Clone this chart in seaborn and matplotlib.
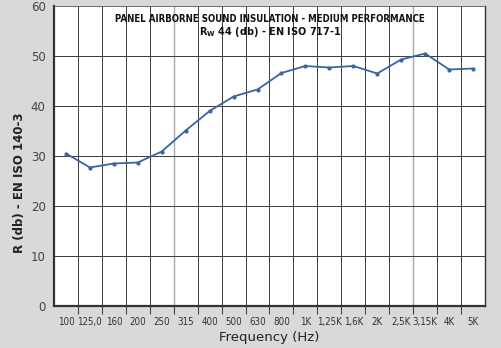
import matplotlib
matplotlib.use("Agg")
import matplotlib.pyplot as plt
import seaborn as sns
import pandas as pd
import numpy as np

freq_labels = ["100", "125,0", "160", "200", "250", "315", "400", "500", "630", "800",
               "1K", "1,25K", "1,6K", "2K", "2,5K", "3,15K", "4K", "5K"]
r_values = [30.5, 27.7, 28.5, 28.7, 30.9, 35.1, 39.0, 41.9, 43.3, 46.6,
            48.0, 47.7, 48.0, 46.5, 49.3, 50.5, 47.3, 47.5]
y_ticks = [0, 10, 20, 30, 40, 50, 60]

sns.set_theme(style="white")
plt.rcParams['font.family'] = ['DejaVu Sans']

df = pd.DataFrame({"pos": np.arange(len(freq_labels)), "R": r_values})

fig = plt.figure(figsize=(5.01, 3.48), dpi=100)
fig.patch.set_facecolor("#d9d9d9")
ax = fig.add_axes([54/501, 1-306/348, (485-54)/501, 300/348])
ax.set_facecolor("white")

sns.lineplot(data=df, x="pos", y="R", ax=ax, color="#3a64a2", linewidth=1.3,
             marker="o", markersize=3, markeredgewidth=0, sort=False)

n = len(freq_labels)
ax.set_xlim(-0.5, n - 0.5)
ax.set_ylim(0, 60)
ax.set_xticks(np.arange(n))
ax.set_xticklabels(freq_labels, fontsize=7, color="#333333", fontstretch="condensed")
ax.set_yticks(y_ticks)
ax.set_yticklabels([str(t) for t in y_ticks], fontsize=8.5, color="#444444")
ax.tick_params(axis="x", which="major", length=0, pad=8)
ax.tick_params(axis="y", which="major", length=0, pad=6)

bounds = np.arange(n - 1) + 0.5
ax.set_xticks(bounds, minor=True)
ax.tick_params(axis="x", which="minor", length=6, width=0.8, color="#444444", direction="out", bottom=True)

for b in bounds:
    col = "#a8a8a8" if b in (4.5, 14.5) else "#3a3a3a"
    lw = 1.0 if b in (4.5, 14.5) else 0.7
    ax.axvline(b, color=col, linewidth=lw, zorder=0)
for t in y_ticks[1:-1]:
    ax.axhline(t, color="#3a3a3a", linewidth=0.7, zorder=0)

for side in ["left", "bottom"]:
    ax.spines[side].set_color("#333333")
    ax.spines[side].set_linewidth(1.6)
ax.spines["right"].set_color("#333333")
ax.spines["right"].set_linewidth(1.0)
ax.spines["top"].set_color("#555555")
ax.spines["top"].set_linewidth(0.6)

ax.set_xlabel("Frequency (Hz)", fontsize=9.5, color="#222222", labelpad=3)
ax.set_ylabel("R (db) - EN ISO 140-3", fontsize=8.5, fontweight="bold", color="#222222")
ax.yaxis.set_label_coords(-0.064, 0.41)

ax.text(0.501, 0.955, "PANEL AIRBORNE SOUND INSULATION - MEDIUM PERFORMANCE",
        transform=ax.transAxes, ha="center", va="center", fontsize=6.9, fontweight="bold",
        color="#111111", fontstretch="condensed")
ax.text(0.501, 0.912, r"R$_\mathbf{W}$ 44 (db) - EN ISO 717-1",
        transform=ax.transAxes, ha="center", va="center", fontsize=7, fontweight="bold",
        color="#111111")

fig.savefig("out.png", dpi=100, facecolor=fig.get_facecolor())
